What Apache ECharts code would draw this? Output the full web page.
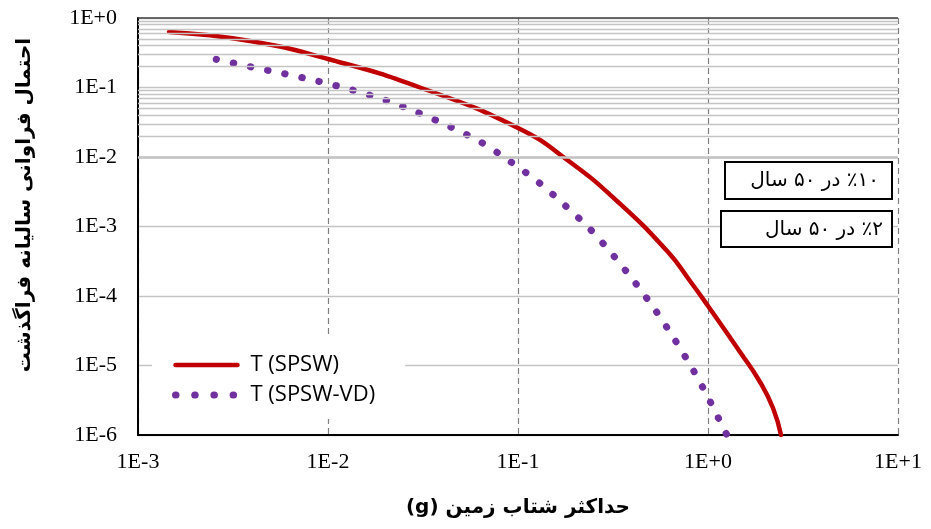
<!DOCTYPE html>
<html><head><meta charset="utf-8">
<script src="https://cdn.jsdelivr.net/npm/echarts@6/dist/echarts.min.js"></script>
<style>html,body{margin:0;padding:0;background:#fff}#c{width:931px;height:529px}</style>
</head><body><div id="c"></div>
<script>
// Data
const pgaSPSW  = [0.001456, 0.003887, 0.01, 0.03049, 0.1, 0.1878, 0.336, 0.6158, 0.8042, 1.0, 1.474, 1.878, 2.198, 2.422];
const probSPSW = [0.629, 0.4667, 0.2571, 0.1, 0.02615, 0.008474, 0.002252, 0.0004296, 1.643e-4, 7.18e-5, 1.564e-5, 5.79e-6, 2.446e-6, 1e-6];
const pgaVD  = [0.00258, 0.0039, 0.00589, 0.00889, 0.01343, 0.0201, 0.02985, 0.0439, 0.0644, 0.0914, 0.1285, 0.1775, 0.240, 0.319, 0.414, 0.532, 0.670, 0.837, 1.021, 1.23, 1.26];
const probVD = [0.2546, 0.199, 0.158, 0.1228, 0.092, 0.0655, 0.0434, 0.0273, 0.0161, 0.00855, 0.00432, 0.00199, 0.000912, 0.000377, 0.000155, 6.08e-5, 2.33e-5, 8.53e-6, 3.12e-6, 1.12e-6, 1e-6];
const hazardLevels = [0.0021, 0.000404];
const hazardLabels = ['\u202B۱۰\u200F٪ در ۵۰ سال\u202C', '\u202B۲\u200F٪ در ۵۰ سال\u202C'];
const seriesNames = ['T (SPSW)', 'T (SPSW-VD)'];
const xTitle = '\u202Bحداکثر شتاب زمین (g)\u202C';
const yTitle = 'احتمال فراوانی سالیانه فراگذشت';
const xRange = [1e-3, 10];
const yRange = [1e-6, 1];

const toPairs = (xs, ys) => xs.map((x, i) => [x, ys[i]]);
const expLabel = v => { const e = Math.round(Math.log10(v)); return '1E' + (e >= 0 ? '+' + e : e); };

// minor gridlines at 2..9 × 10^k
const minorLines = [];
for (let e = -6; e < 0; e++) for (let j = 2; j <= 9; j++) minorLines.push({ yAxis: j * Math.pow(10, e) });

const chart = echarts.init(document.getElementById('c'), null, { renderer: 'canvas' });
const labelFont = { fontFamily: 'Liberation Serif', fontSize: 22, color: '#000' };
chart.setOption({
  animation: false,
  backgroundColor: '#fff',
  grid: { left: 138, right: 33, top: 18, bottom: 94 },
  xAxis: {
    type: 'log', logBase: 10, min: xRange[0], max: xRange[1],
    axisLine: { show: true, lineStyle: { color: '#000', width: 2 } },
    axisTick: { show: false },
    axisLabel: Object.assign({ margin: 16, formatter: expLabel }, labelFont),
    splitLine: { show: true, lineStyle: { color: '#808080', width: 1.2, type: [6, 4] } },
    minorSplitLine: { show: false }
  },
  yAxis: {
    type: 'log', logBase: 10, min: yRange[0], max: yRange[1],
    axisLine: { show: true, lineStyle: { color: '#000', width: 2 } },
    axisTick: { show: false },
    axisLabel: Object.assign({ margin: 21, formatter: expLabel }, labelFont),
    splitLine: { show: true, lineStyle: { color: '#c4c4c4', width: 1.4 } }
  },
  legend: {
    orient: 'vertical', left: 152, top: 338,
    padding: [16, 30, 13, 20], itemGap: 8, itemWidth: 62, itemHeight: 14,
    backgroundColor: '#fff',
    textStyle: { fontFamily: 'Open Sans', fontSize: 22, color: '#000', padding: [0, 0, 0, 8] },
    data: [
      { name: seriesNames[0], itemStyle: { opacity: 0 }, lineStyle: { width: 4.5, color: '#C00000' } },
      { name: seriesNames[1], itemStyle: { opacity: 0 }, lineStyle: { width: 7, color: '#7030A0', type: [0.5, 18.7], cap: 'round' } }
    ]
  },
  series: [
    {
      name: 'grid', type: 'line', data: [], z: 1, silent: true,
      markLine: {
        silent: true, symbol: ['none', 'none'], label: { show: false },
        lineStyle: { color: '#c4c4c4', width: 1.4, type: 'solid' },
        emphasis: { disabled: true },
        data: minorLines.concat([{ yAxis: yRange[1], lineStyle: { color: '#404040', width: 1.6 } }])
      }
    },
    {
      name: 'hazard', type: 'line', data: [], z: 2, silent: true,
      markLine: {
        silent: true, symbol: ['none', 'none'], label: { show: false },
        lineStyle: { color: '#000', width: 3, type: 'solid' },
        emphasis: { disabled: true },
        data: hazardLevels.map(v => ({ yAxis: v }))
      }
    },
    {
      name: seriesNames[0], type: 'line', z: 4, smooth: 0.5, showSymbol: false, symbol: 'none',
      data: toPairs(pgaSPSW, probSPSW),
      lineStyle: { color: '#C00000', width: 4.5, cap: 'round' },
      itemStyle: { color: '#C00000' }
    },
    {
      name: seriesNames[1], type: 'line', z: 4, smooth: 0.3, showSymbol: false, symbol: 'none',
      data: toPairs(pgaVD, probVD),
      lineStyle: { color: '#7030A0', width: 7, type: [0.5, 17], cap: 'round' },
      itemStyle: { color: '#7030A0' }
    }
  ],
  graphic: [
    { type: 'rect', z: 100, shape: { x: 725, y: 162, width: 167, height: 37 }, style: { fill: '#fff', stroke: '#000', lineWidth: 2 } },
    { type: 'text', z: 101, x: 879, y: 181, style: { text: hazardLabels[0], font: '20px "DejaVu Sans"', align: 'right', verticalAlign: 'middle', fill: '#000' } },
    { type: 'rect', z: 100, shape: { x: 721, y: 211, width: 171, height: 36 }, style: { fill: '#fff', stroke: '#000', lineWidth: 2 } },
    { type: 'text', z: 101, x: 883, y: 230, style: { text: hazardLabels[1], font: '20px "DejaVu Sans"', align: 'right', verticalAlign: 'middle', fill: '#000' } },
    { type: 'text', z: 101, x: 25, y: 205, rotation: Math.PI / 2, style: { text: yTitle, font: 'bold 20px "DejaVu Sans"', align: 'center', verticalAlign: 'middle', fill: '#000' } },
    { type: 'text', z: 101, x: 518, y: 508, style: { text: xTitle, font: 'bold 20px "DejaVu Sans"', align: 'center', verticalAlign: 'middle', fill: '#000' } }
  ]
});
</script></body></html>
